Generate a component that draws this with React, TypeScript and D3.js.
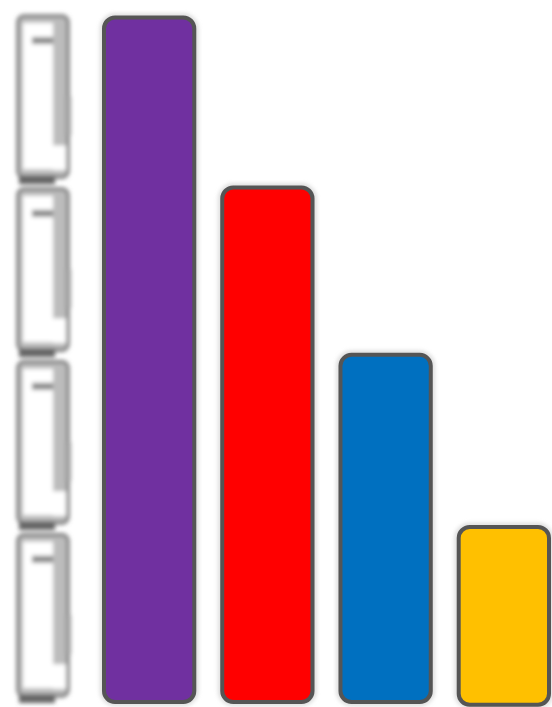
import React from 'react';
import * as d3 from 'd3';

const width = 552;
const height = 707;

const categories = ['A', 'B', 'C', 'D'];
const values = [100, 75.3, 51, 26];
const floors = [0, 0, 0, -0.4];
const colors = ['#7030a0', '#ff0000', '#0070c0', '#ffc000'];
const icons = ['icon1', 'icon2', 'icon3', 'icon4'];

const x = d3.scaleBand().domain(categories).range([102, 551]).paddingInner(0.2025);
const y = d3.scaleLinear().domain([0, 100]).range([704, 15.5]);
const iconY = d3.scaleBand().domain(icons).range([14, 697]).paddingInner(0.05);

const App = () => {
	const iw = iconY.bandwidth();
	return (
		<svg width={width} height={height} style={{ position: 'absolute', left: 0, top: 0, background: '#fff' }}>
			<defs>
				<filter id="blur" x="-30%" y="-10%" width="160%" height="120%">
					<feGaussianBlur stdDeviation="2.2" />
				</filter>
				<filter id="soft" x="-30%" y="-10%" width="160%" height="120%">
					<feGaussianBlur stdDeviation="2" />
				</filter>
			</defs>
			<g filter="url(#blur)">
				{icons.map(d => (
					<g key={d} transform={`translate(0, ${iconY(d)})`}>
						{/* side panel first, the white face sits over it */}
						<rect x={18} y={2} width={50} height={iw - 3} rx={6} fill="#bcbcbc" stroke="#808080" strokeWidth={3.5} />
						<path d={`M68 ${iw * 0.5}V${iw * 0.74}`} stroke="#a0a0a0" strokeWidth={6} fill="none" />
						<rect x={23} y={9} width={30} height={iw - 18} fill="#fff" />
						<rect x={53} y={iw * 0.8} width={13} height={iw * 0.15} fill="#fff" />
						<rect x={32} y={23} width={21} height={7} fill="#8c8c8c" />
						<rect x={19} y={iw - 3} width={36} height={9} fill="#666" />
					</g>
				))}
			</g>
			{categories.map((d, i) => {
				const top = y(values[i]);
				const h = y(floors[i]) - top;
				return (
					<g key={d}>
						<rect x={x(d)} y={top} width={x.bandwidth()} height={h} rx={13} fill="none" stroke="#ccc" strokeWidth={3} filter="url(#soft)" />
						<rect x={x(d)! + 2} y={top + 2} width={x.bandwidth() - 4} height={h - 4} rx={11} fill={colors[i]} stroke="#555" strokeWidth={4} />
					</g>
				);
			})}
		</svg>
	);
};

export default App;
